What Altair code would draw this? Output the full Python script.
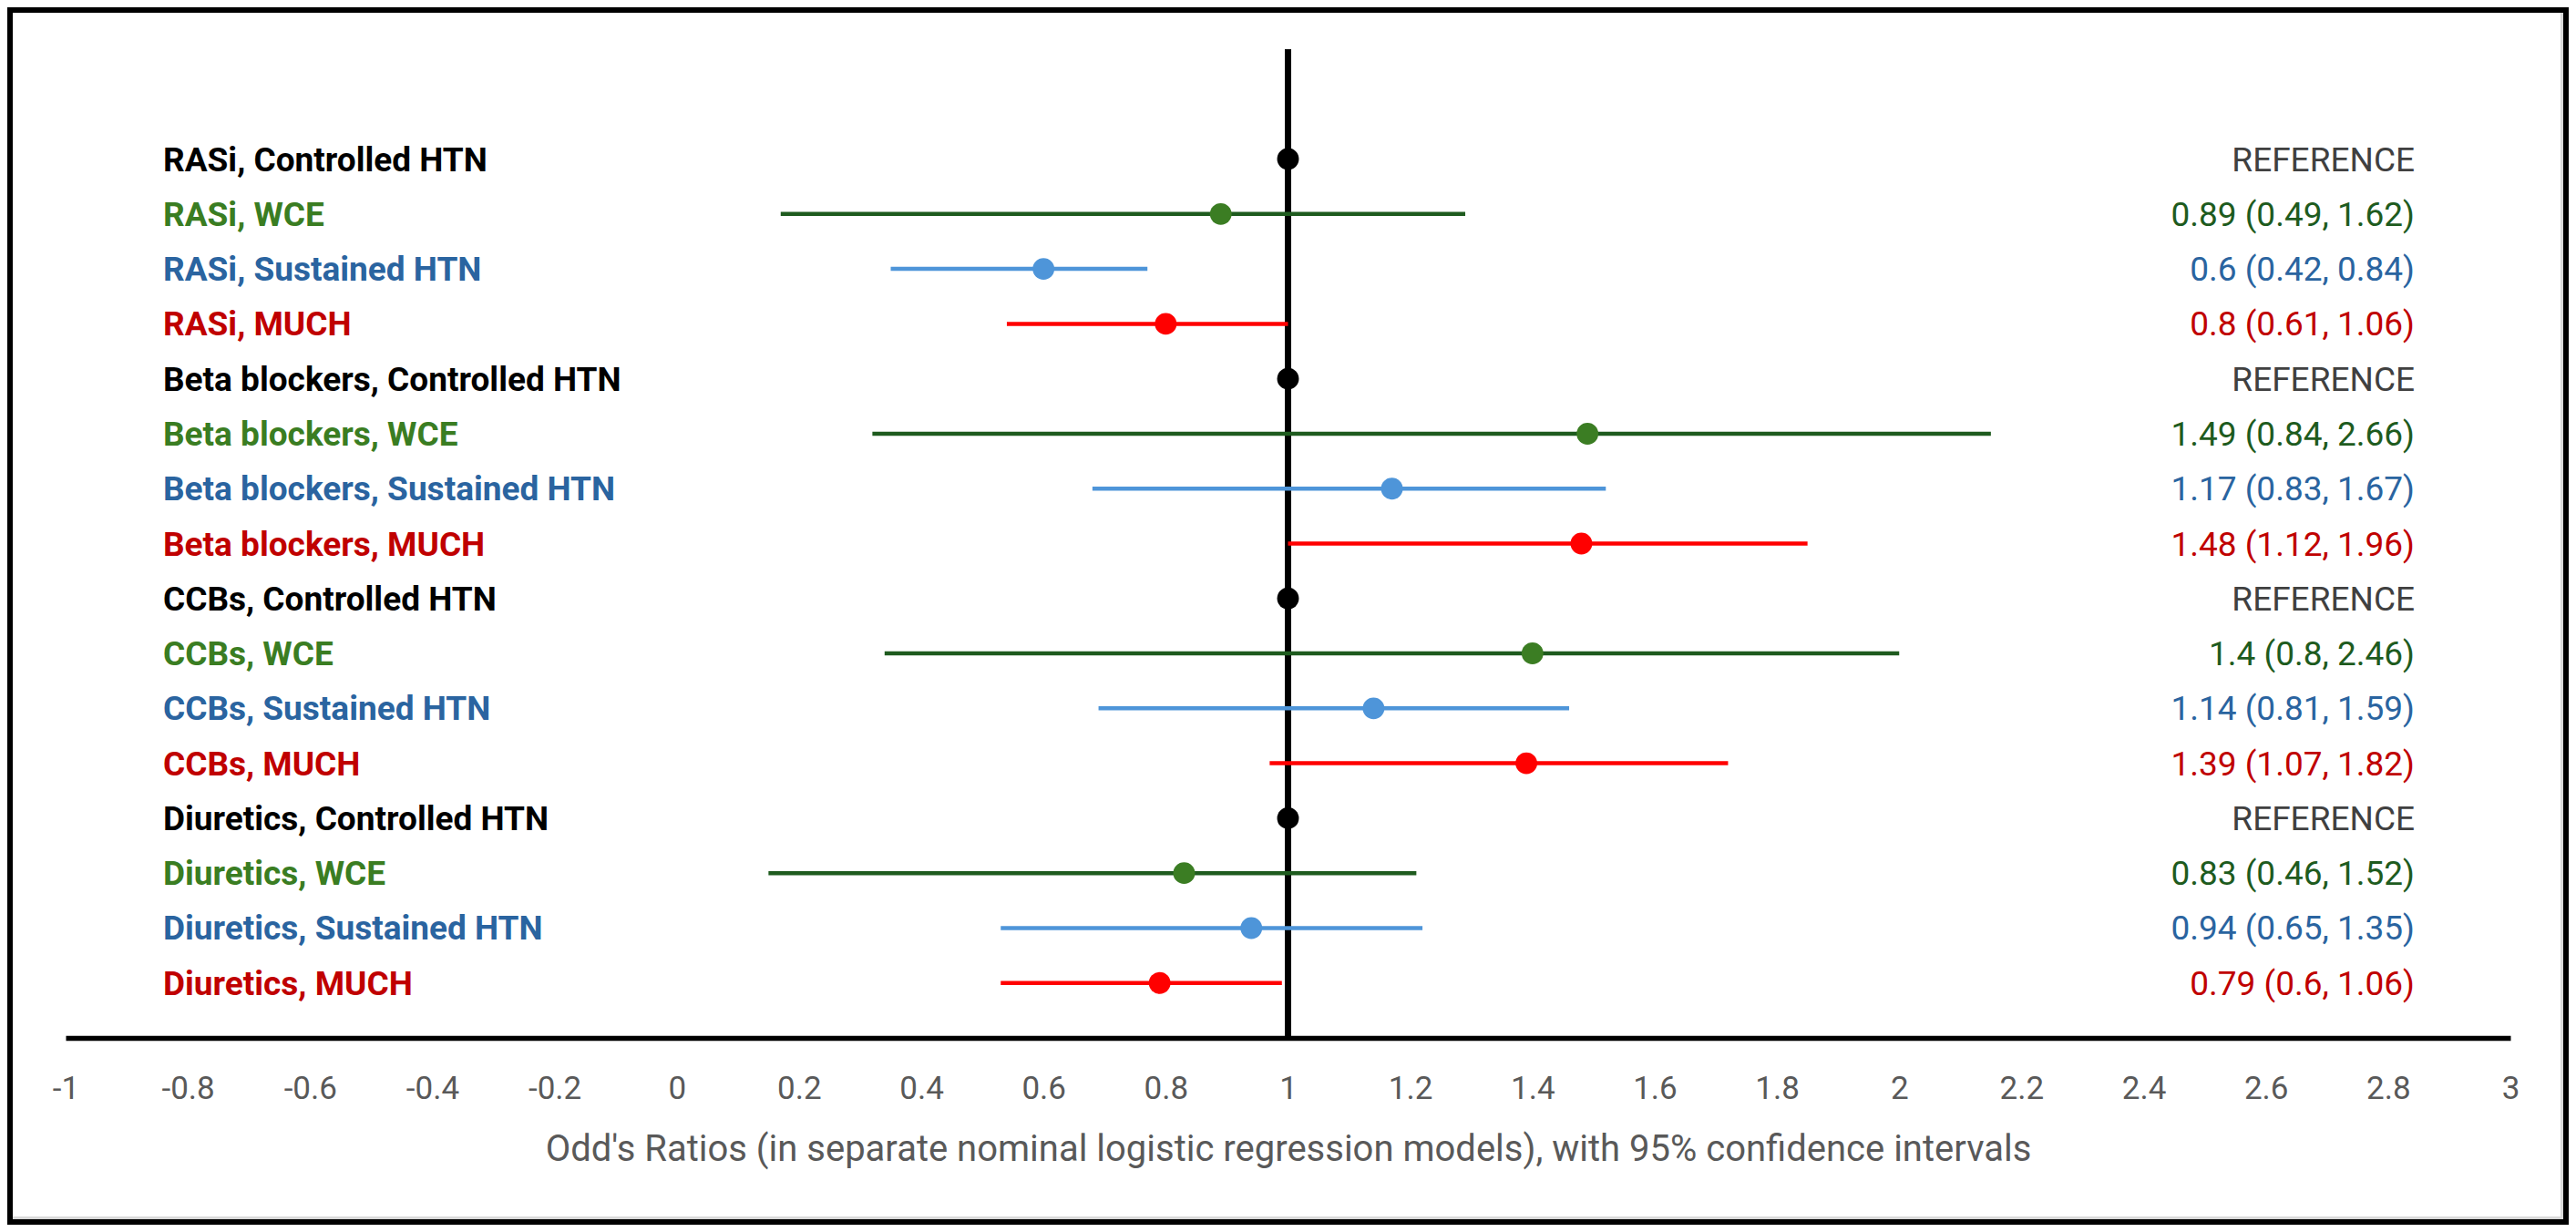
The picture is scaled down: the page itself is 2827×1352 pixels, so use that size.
import altair as alt
import pandas as pd

# ---------------- data ----------------
drugs = ["RASi", "Beta blockers", "CCBs", "Diuretics"]
outcomes = ["Controlled HTN", "WCE", "Sustained HTN", "MUCH"]

odds_ratios = [1, 0.89, 0.6, 0.8,
               1, 1.49, 1.17, 1.48,
               1, 1.4, 1.14, 1.39,
               1, 0.83, 0.94, 0.79]
ci_lower = [None, 0.49, 0.42, 0.61,
            None, 0.84, 0.83, 1.12,
            None, 0.8, 0.81, 1.07,
            None, 0.46, 0.65, 0.6]
ci_upper = [None, 1.62, 0.84, 1.06,
            None, 2.66, 1.67, 1.96,
            None, 2.46, 1.59, 1.82,
            None, 1.52, 1.35, 1.06]
# whisker ends as drawn in the picture
bar_start = [None, 0.17, 0.35, 0.54,
             None, 0.32, 0.68, 1.0,
             None, 0.34, 0.69, 0.97,
             None, 0.15, 0.53, 0.53]
bar_end = [None, 1.29, 0.77, 1.0,
           None, 2.15, 1.52, 1.85,
           None, 2.0, 1.46, 1.72,
           None, 1.21, 1.22, 0.99]

x_ticks = [-1, -0.8, -0.6, -0.4, -0.2, 0, 0.2, 0.4, 0.6, 0.8, 1,
           1.2, 1.4, 1.6, 1.8, 2, 2.2, 2.4, 2.6, 2.8, 3]
axis_title = "Odd's Ratios (in separate nominal logistic regression models), with 95% confidence intervals"
reference_text = "REFERENCE"

# ---------------- styles ----------------
label_colors = ["#000000", "#3A7D22", "#2A64A0", "#C00000"]
dot_colors = ["#000000", "#3B7D23", "#4E95D9", "#FF0000"]
line_colors = ["#000000", "#1E5B1E", "#4E95D9", "#FF0000"]
value_colors = ["#404040", "#1E5B1E", "#2A64A0", "#C00000"]

rows = []
i = 0
for d in drugs:
    for o in outcomes:
        if o == "Controlled HTN":
            rtxt = reference_text
        else:
            rtxt = f"{odds_ratios[i]} ({ci_lower[i]}, {ci_upper[i]})"
        rows.append(dict(row=i, label=f"{d}, {o}", outcome=o,
                         odds=odds_ratios[i], lo=bar_start[i], hi=bar_end[i],
                         rtext=rtxt))
        i += 1
df = pd.DataFrame(rows)
bars_df = df.dropna(subset=["lo", "hi"])

W, H = 2683, 1085
PAD = dict(left=64, top=46, right=64, bottom=205)

x_scale = alt.Scale(domain=[-1, 3], nice=False, zero=False)
y_scale = alt.Scale(domain=[-2, 16], reverse=True, nice=False, zero=False)

x_axis = alt.Axis(
    values=x_ticks,
    labelExpr="toString(round(datum.value*10)/10)",
    domain=True, domainColor="#000000", domainWidth=5.5,
    ticks=False, tickSize=0, grid=False,
    labelFont="Roboto", labelFontSize=35, labelColor="#595959",
    labelPadding=38, labelFlush=False, labelOverlap=False,
    title=axis_title, titleFont="Roboto", titleFontSize=40,
    titleFontWeight="normal", titleColor="#595959", titlePadding=29,
)

def X(field):
    return alt.X(field, type="quantitative", scale=x_scale, axis=x_axis)

def Y(field):
    return alt.Y(field, type="quantitative", scale=y_scale, axis=None)

frame = alt.Chart(pd.DataFrame({"k": [0]})).mark_rect(
    fillOpacity=0, stroke="#000000", strokeWidth=6
).encode(
    x=alt.value(-PAD["left"] + 3), x2=alt.value(W + PAD["right"] - 3),
    y=alt.value(-PAD["top"] + 3), y2=alt.value(H + PAD["bottom"] - 3),
)

shadow_r = alt.Chart(pd.DataFrame({"k": [0]})).mark_rule(
    color="#D9D9D9", strokeWidth=3
).encode(
    x=alt.value(W + PAD["right"] - 7.5),
    y=alt.value(-PAD["top"] + 6), y2=alt.value(H + PAD["bottom"] - 6),
)
shadow_b = alt.Chart(pd.DataFrame({"k": [0]})).mark_rule(
    color="#D9D9D9", strokeWidth=3
).encode(
    y=alt.value(H + PAD["bottom"] - 7.5),
    x=alt.value(-PAD["left"] + 6), x2=alt.value(W + PAD["right"] - 6),
)

vline = alt.Chart(pd.DataFrame({"x": [1], "y": [-2], "y2": [16]})).mark_rule(
    color="#000000", strokeWidth=7
).encode(x=X("x"), y=Y("y"), y2="y2")

bars = alt.Chart(bars_df).mark_rule(strokeWidth=4.5, strokeCap="butt").encode(
    x=X("lo"), x2="hi", y=Y("row"),
    color=alt.Color("outcome:N", scale=alt.Scale(domain=outcomes, range=line_colors), legend=None),
)

dots = alt.Chart(df).mark_circle(size=570, opacity=1).encode(
    x=X("odds"), y=Y("row"),
    color=alt.Color("outcome:N", scale=alt.Scale(domain=outcomes, range=dot_colors), legend=None),
)

left_labels = alt.Chart(df).mark_text(
    align="left", baseline="alphabetic", dy=13, font="Roboto",
    fontWeight="bold", fontSize=37
).encode(
    x=alt.value(107), y=Y("row"), text="label:N",
    color=alt.Color("outcome:N", scale=alt.Scale(domain=outcomes, range=label_colors), legend=None),
)

right_labels = alt.Chart(df).mark_text(
    align="right", baseline="alphabetic", dy=13, font="Roboto", fontSize=37
).encode(
    x=alt.value(2578), y=Y("row"), text="rtext:N",
    color=alt.Color("outcome:N", scale=alt.Scale(domain=outcomes, range=value_colors), legend=None),
)

chart = alt.layer(shadow_r, shadow_b, frame, vline, bars, dots, left_labels, right_labels).resolve_scale(
    color="independent"
).properties(
    width=W, height=H, padding=PAD,
    autosize=alt.AutoSizeParams(type="none"),
    background="#FFFFFF",
).configure_view(stroke=None)

chart.save("out.html", embed_options={"renderer": "svg", "actions": False})
